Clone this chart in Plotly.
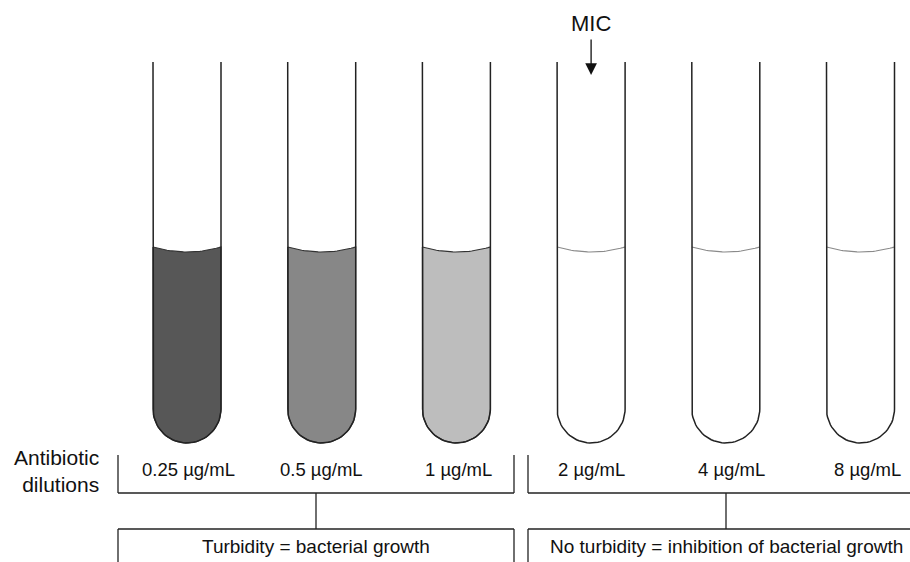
import numpy as np
import plotly.graph_objects as go

# ---------------------------------------------------------------- data
CONCENTRATIONS = ['0.25 µg/mL', '0.5 µg/mL', '1 µg/mL', '2 µg/mL', '4 µg/mL', '8 µg/mL']
# grey level of the broth in each tube (0 = clear, 1 = black)
TURBIDITY = [0.66, 0.47, 0.26, 0.0, 0.0, 0.0]
MIC_INDEX = 3
GROUP_LABELS = ['Turbidity = bacterial growth',
                'No turbidity = inhibition of bacterial growth']
ROW_LABEL = 'Antibiotic<br>dilutions'

# ---------------------------------------------------------------- geometry (pixels)
W, H = 910, 562
X0, STEP = 187, 134.7          # first tube centre, spacing
HALF = 34                      # tube half width
TOP, ROUND = 62, 409           # open top, start of the rounded bottom
LEVEL, DIP = 247, 5            # meniscus at the wall and its dip
LABEL_NUDGE = [1, 0, 2, 0, 6, 7]
GROUP_SPANS = [(118, 514), (528, 924)]
BR_TOP, BR_MID, BR_LOW = 455, 493, 529

FONT = 'Liberation Sans, Arial, sans-serif'
INK = '#222222'


def grey(t):
    v = int(round(255 * (1 - t)))
    return f'rgb({v},{v},{v})'


fig = go.Figure()
theta_down = np.linspace(np.pi, 0, 40)     # left wall -> bottom -> right wall

for i, conc in enumerate(CONCENTRATIONS):
    cx = X0 + i * STEP
    mx = np.linspace(cx - HALF, cx + HALF, 30)
    my = LEVEL + DIP * (1 - ((mx - cx) / HALF) ** 2)

    if TURBIDITY[i] > 0:
        # broth body: meniscus left->right, down the right wall, round bottom, up
        arc_x = cx + HALF * np.cos(theta_down[::-1])
        arc_y = ROUND + HALF * np.sin(theta_down[::-1])
        px = np.concatenate([mx, [cx + HALF], arc_x, [cx - HALF]])
        py = np.concatenate([my, [ROUND], arc_y, [LEVEL]])
        fig.add_trace(go.Scatter(x=px, y=py, mode='lines', fill='toself',
                                 fillcolor=grey(TURBIDITY[i]),
                                 line=dict(color='#333333', width=1.2),
                                 hoverinfo='skip', showlegend=False))
    else:
        fig.add_trace(go.Scatter(x=mx, y=my, mode='lines',
                                 line=dict(color='#8a8a8a', width=1.2),
                                 hoverinfo='skip', showlegend=False))

    # glass outline, open at the top
    ox = np.concatenate([[cx - HALF], cx + HALF * np.cos(theta_down), [cx + HALF]])
    oy = np.concatenate([[TOP], ROUND + HALF * np.sin(theta_down), [TOP]])
    fig.add_trace(go.Scatter(x=ox, y=oy, mode='lines',
                             line=dict(color=INK, width=1.5),
                             hoverinfo='skip', showlegend=False))

    fig.add_annotation(x=cx + LABEL_NUDGE[i], y=469, text=conc, showarrow=False,
                       font=dict(family=FONT, size=18.5, color='#111111'))

# MIC marker
mic_x = X0 + MIC_INDEX * STEP
fig.add_annotation(x=mic_x, y=75, ax=mic_x, ay=38, axref='x', ayref='y',
                   showarrow=True, arrowhead=2, arrowsize=1.8, arrowwidth=1.3,
                   arrowcolor='#111111', standoff=0, text='')
fig.add_annotation(x=mic_x, y=23, text='MIC', showarrow=False,
                   font=dict(family=FONT, size=22, color='#111111'))

fig.add_annotation(x=101, y=471, text=ROW_LABEL, showarrow=False,
                   xanchor='right', align='right',
                   font=dict(family=FONT, size=21, color='#111111'))

# brackets
line = dict(color=INK, width=1.3)
for (a, b), label in zip(GROUP_SPANS, GROUP_LABELS):
    mid = (a + b) / 2
    for x in (a, b):
        fig.add_shape(type='line', x0=x, x1=x, y0=BR_TOP, y1=BR_MID, line=line)
        fig.add_shape(type='line', x0=x, x1=x, y0=BR_LOW, y1=H + 10, line=line)
    fig.add_shape(type='line', x0=a, x1=b, y0=BR_MID, y1=BR_MID, line=line)
    fig.add_shape(type='line', x0=mid, x1=mid, y0=BR_MID, y1=BR_LOW, line=line)
    fig.add_shape(type='line', x0=a, x1=b, y0=BR_LOW, y1=BR_LOW, line=line)
    fig.add_annotation(x=mid, y=546, text=label, showarrow=False,
                       font=dict(family=FONT, size=19, color='#111111'))

fig.update_layout(
    width=W, height=H,
    margin=dict(l=0, r=0, t=0, b=0),
    plot_bgcolor='white', paper_bgcolor='white',
    xaxis=dict(range=[0, W], visible=False, fixedrange=True),
    yaxis=dict(range=[H, 0], visible=False, fixedrange=True),
    showlegend=False,
)

fig.write_html("out.html", config={'displayModeBar': False},
               post_script="document.body.style.margin='0';")
